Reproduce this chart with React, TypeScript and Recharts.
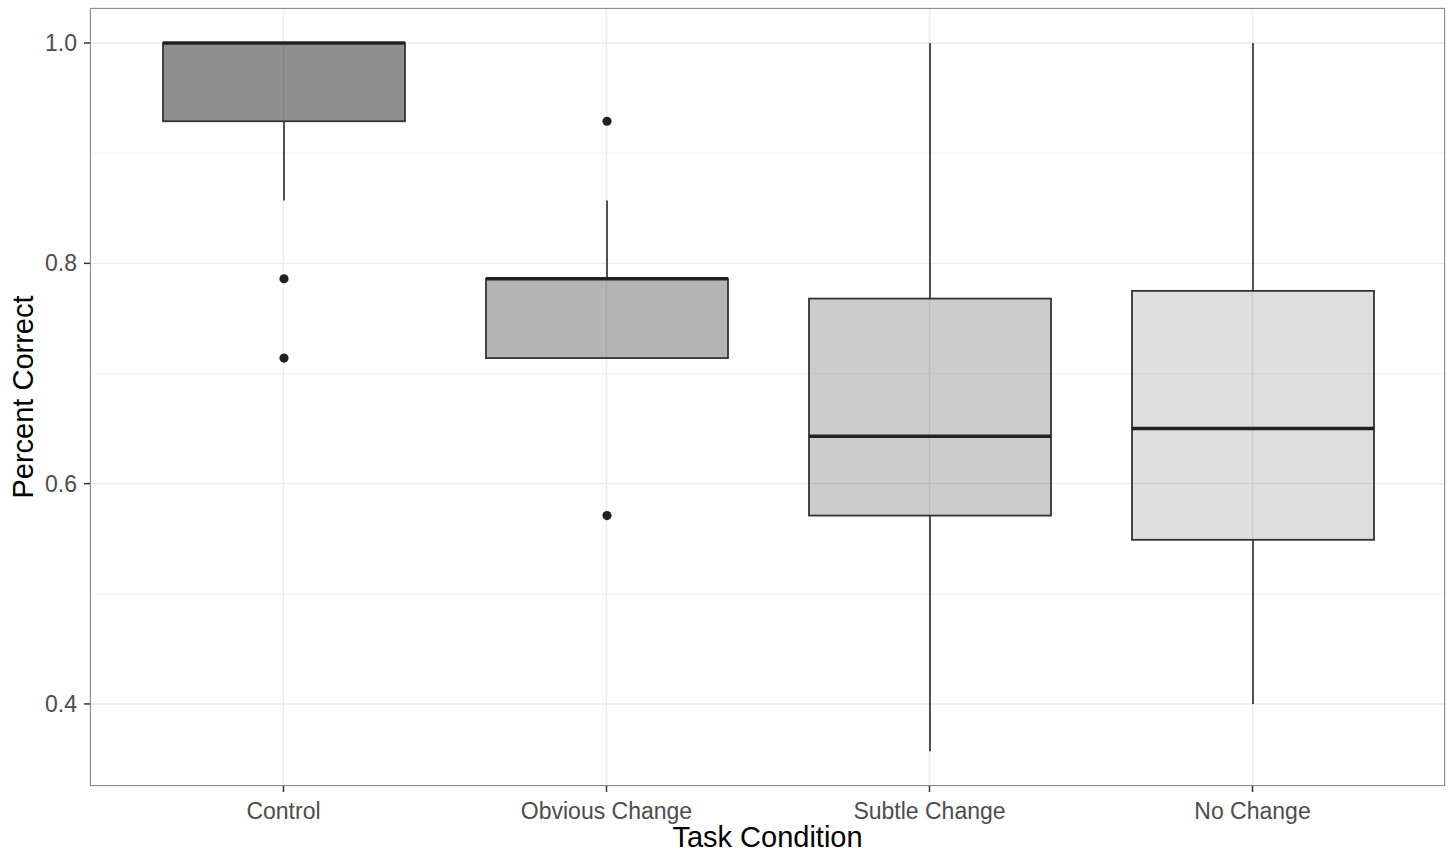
import React from 'react';
import { ComposedChart, Bar, XAxis, YAxis, CartesianGrid } from 'recharts';

// values
const categories = ['Control', 'Obvious Change', 'Subtle Change', 'No Change'];
const lowerWhisker = [0.857, 0.714, 0.357, 0.4];
const q1 = [0.929, 0.714, 0.571, 0.549];
const median = [1.0, 0.786, 0.643, 0.65];
const q3 = [1.0, 0.786, 0.768, 0.775];
const upperWhisker = [1.0, 0.857, 1.0, 1.0];
const outliers = [[0.786, 0.714], [0.929, 0.571], [], []];

const yTicks = [0.4, 0.6, 0.8, 1.0];
const yMinorTicks = [0.5, 0.7, 0.9];

// grey fill scale (black at decreasing alpha, so the grid shows through)
const boxAlpha = [0.44, 0.29, 0.2, 0.125];

const data = categories.map((name, i) => ({
  name,
  box: [q1[i], q3[i]],
  lo: lowerWhisker[i],
  q1: q1[i],
  med: median[i],
  q3: q3[i],
  hi: upperWhisker[i],
  out: outliers[i],
  alpha: boxAlpha[i],
}));

const INK = '#333333';
const FONT = '"Liberation Sans", Arial, sans-serif';

// draws one box; the y scale is taken from the bar geometry Recharts gives us
const BoxShape = (props: any) => {
  const { x, y, width, height, payload } = props;
  const top = Math.min(y, y + height);
  const h = Math.abs(height);
  const k = h / (payload.q3 - payload.q1);
  const py = (v: number) => top + (payload.q3 - v) * k;
  const cx = x + width / 2;
  return (
    <g>
      {payload.hi > payload.q3 && (
        <line x1={cx} x2={cx} y1={py(payload.hi)} y2={top} stroke={INK} strokeWidth={1.7} />
      )}
      {payload.lo < payload.q1 && (
        <line x1={cx} x2={cx} y1={top + h} y2={py(payload.lo)} stroke={INK} strokeWidth={1.7} />
      )}
      <rect
        x={x}
        y={top}
        width={width}
        height={h}
        fill="#000"
        fillOpacity={payload.alpha}
        stroke={INK}
        strokeWidth={1.8}
      />
      <line x1={x} x2={x + width} y1={py(payload.med)} y2={py(payload.med)} stroke="#222" strokeWidth={3.6} />
      {payload.out.map((v: number, j: number) => (
        <circle key={j} cx={cx} cy={py(v)} r={4.6} fill="#222" />
      ))}
    </g>
  );
};

export default function App() {
  return (
    <div style={{ position: 'absolute', left: 0, top: 0, width: 1450, height: 854, background: '#fff' }}>
      <ComposedChart
        width={1450}
        height={854}
        data={data}
        margin={{ top: 8, right: 5, left: 0, bottom: 0 }}
      >
        {/* minor grid */}
        <CartesianGrid stroke="#f4f4f4" strokeWidth={1.2} vertical={false} horizontalValues={yMinorTicks} />
        {/* major grid */}
        <CartesianGrid stroke="#ebebeb" strokeWidth={1.4} />
        <XAxis
          dataKey="name"
          type="category"
          padding={{ left: 32, right: 31 }}
          height={68}
          axisLine={false}
          tickSize={6}
          tickMargin={11}
          tickLine={{ stroke: INK, strokeWidth: 1.5 }}
          tick={{ fill: '#4d4d4d', fontSize: 23, fontFamily: FONT }}
          label={{
            content: (p: any) => {
              const vb = p.viewBox;
              return (
                <text x={vb.x + vb.width / 2} y={847} textAnchor="middle" fill="#000" fontSize={29} fontFamily={FONT}>
                  Task Condition
                </text>
              );
            },
          }}
        />
        <YAxis
          type="number"
          domain={[0.3255, 1.0318]}
          ticks={yTicks}
          tickFormatter={(v: number) => v.toFixed(1)}
          width={90}
          axisLine={false}
          tickSize={6}
          tickMargin={7}
          tickLine={{ stroke: INK, strokeWidth: 1.5 }}
          tick={{ fill: '#4d4d4d', fontSize: 23, fontFamily: FONT }}
          allowDataOverflow
          label={{
            content: (p: any) => {
              const vb = p.viewBox;
              const cy = vb.y + vb.height / 2;
              return (
                <text
                  x={33}
                  y={cy}
                  transform={`rotate(-90, 33, ${cy})`}
                  textAnchor="middle"
                  fill="#000"
                  fontSize={29}
                  fontFamily={FONT}
                >
                  Percent Correct
                </text>
              );
            },
          }}
        />
        <Bar dataKey="box" barSize={242} shape={BoxShape} isAnimationActive={false} />
      </ComposedChart>
      {/* panel border */}
      <div
        style={{
          position: 'absolute',
          left: 90,
          top: 8,
          width: 1355,
          height: 778,
          boxSizing: 'border-box',
          border: '1.5px solid #8c8c8c',
          pointerEvents: 'none',
        }}
      />
    </div>
  );
}
